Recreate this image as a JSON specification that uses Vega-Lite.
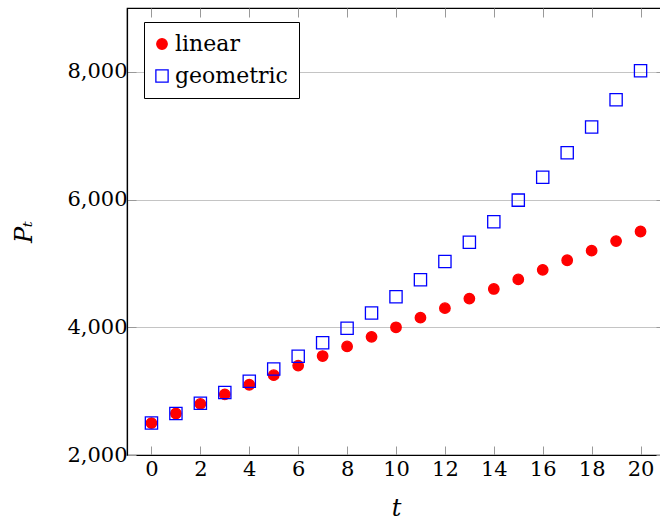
{
  "$schema": "https://vega.github.io/schema/vega-lite/v6.json",
  "width": 538,
  "height": 447,
  "autosize": "none",
  "padding": {"left": 127, "top": 8, "right": 0, "bottom": 66},
  "config": {
    "font": "DejaVu Serif",
    "view": {"stroke": "black", "strokeWidth": 1.2},
    "axis": {
      "domainColor": "black",
      "domainWidth": 1.2,
      "tickColor": "#999999",
      "tickWidth": 1,
      "tickSize": -9,
      "labelFont": "DejaVu Serif",
      "labelFontSize": 21,
      "labelColor": "black",
      "titleFont": "DejaVu Serif",
      "titleFontSize": 24,
      "titleFontWeight": "normal",
      "titleFontStyle": "italic",
      "titleColor": "black",
      "gridColor": "#c4c4c4",
      "gridWidth": 1
    },
    "legend": {
      "strokeColor": "black",
      "fillColor": "white",
      "padding": 11,
      "rowPadding": 10,
      "symbolOffset": -4,
      "symbolStrokeWidth": 1.3,
      "labelOffset": 2,
      "labelFont": "DejaVu Serif",
      "labelFontSize": 22,
      "labelColor": "black"
    }
  },
  "data": {
    "values": [
      {"t": 0, "series": "linear", "P": 2500},
      {"t": 1, "series": "linear", "P": 2650},
      {"t": 2, "series": "linear", "P": 2800},
      {"t": 3, "series": "linear", "P": 2950},
      {"t": 4, "series": "linear", "P": 3100},
      {"t": 5, "series": "linear", "P": 3250},
      {"t": 6, "series": "linear", "P": 3400},
      {"t": 7, "series": "linear", "P": 3550},
      {"t": 8, "series": "linear", "P": 3700},
      {"t": 9, "series": "linear", "P": 3850},
      {"t": 10, "series": "linear", "P": 4000},
      {"t": 11, "series": "linear", "P": 4150},
      {"t": 12, "series": "linear", "P": 4300},
      {"t": 13, "series": "linear", "P": 4450},
      {"t": 14, "series": "linear", "P": 4600},
      {"t": 15, "series": "linear", "P": 4750},
      {"t": 16, "series": "linear", "P": 4900},
      {"t": 17, "series": "linear", "P": 5050},
      {"t": 18, "series": "linear", "P": 5200},
      {"t": 19, "series": "linear", "P": 5350},
      {"t": 20, "series": "linear", "P": 5500},
      {"t": 0, "series": "geometric", "P": 2500},
      {"t": 1, "series": "geometric", "P": 2650},
      {"t": 2, "series": "geometric", "P": 2809},
      {"t": 3, "series": "geometric", "P": 2977.5},
      {"t": 4, "series": "geometric", "P": 3156.2},
      {"t": 5, "series": "geometric", "P": 3345.6},
      {"t": 6, "series": "geometric", "P": 3546.3},
      {"t": 7, "series": "geometric", "P": 3759.1},
      {"t": 8, "series": "geometric", "P": 3984.6},
      {"t": 9, "series": "geometric", "P": 4223.7},
      {"t": 10, "series": "geometric", "P": 4477.1},
      {"t": 11, "series": "geometric", "P": 4745.7},
      {"t": 12, "series": "geometric", "P": 5030.5},
      {"t": 13, "series": "geometric", "P": 5332.3},
      {"t": 14, "series": "geometric", "P": 5652.3},
      {"t": 15, "series": "geometric", "P": 5991.4},
      {"t": 16, "series": "geometric", "P": 6350.9},
      {"t": 17, "series": "geometric", "P": 6731.9},
      {"t": 18, "series": "geometric", "P": 7135.8},
      {"t": 19, "series": "geometric", "P": 7563.9},
      {"t": 20, "series": "geometric", "P": 8017.8}
    ]
  },
  "layer": [
    {
      "mark": {"type": "point", "strokeWidth": 1.3, "opacity": 1},
      "encoding": {
        "x": {
          "field": "t", "type": "quantitative",
          "scale": {"domain": [-1, 21], "nice": false, "zero": false},
          "axis": {"values": [0, 2, 4, 6, 8, 10, 12, 14, 16, 18, 20], "grid": false, "title": "t", "labelPadding": 12, "titlePadding": 17}
        },
        "y": {
          "field": "P", "type": "quantitative",
          "scale": {"domain": [2000, 9000], "nice": false, "zero": false},
          "axis": {"values": [2000, 4000, 6000, 8000], "format": ",d", "grid": true, "title": "Pₜ", "labelPadding": 9, "titlePadding": 30}
        },
        "shape": {"field": "series", "type": "nominal", "scale": {"domain": ["linear", "geometric"], "range": ["circle", "square"]},
          "legend": {"title": null, "orient": "none", "legendX": 17, "legendY": 14}},
        "fill": {"field": "series", "type": "nominal", "scale": {"domain": ["linear", "geometric"], "range": ["#ff0000", "transparent"]},
          "legend": {"title": null, "orient": "none", "legendX": 17, "legendY": 14}},
        "stroke": {"field": "series", "type": "nominal", "scale": {"domain": ["linear", "geometric"], "range": ["#ff0000", "#0000ff"]},
          "legend": {"title": null, "orient": "none", "legendX": 17, "legendY": 14}},
        "size": {"field": "series", "type": "nominal", "scale": {"domain": ["linear", "geometric"], "range": [110, 150]},
          "legend": {"title": null, "orient": "none", "legendX": 17, "legendY": 14}}
      }
    },
    {
      "mark": {"type": "point", "opacity": 0},
      "encoding": {
        "x": {"field": "t", "type": "quantitative",
          "axis": {"orient": "top", "values": [0, 2, 4, 6, 8, 10, 12, 14, 16, 18, 20], "labels": false, "domain": false, "grid": false, "title": null}},
        "y": {"field": "P", "type": "quantitative",
          "axis": {"orient": "right", "values": [2000, 4000, 6000, 8000], "labels": false, "domain": false, "grid": false, "title": null}}
      }
    }
  ],
  "resolve": {"axis": {"x": "independent", "y": "independent"}}
}
